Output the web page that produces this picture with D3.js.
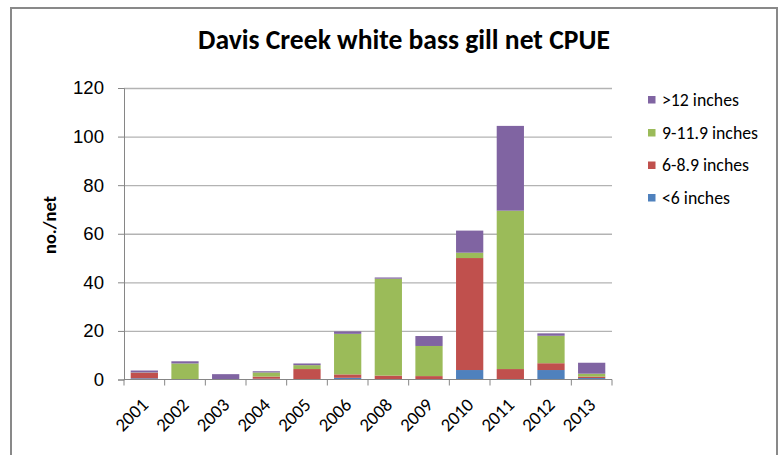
<!DOCTYPE html>
<html>
<head>
<meta charset="utf-8">
<script src="https://cdn.jsdelivr.net/npm/d3@7"></script>
<style>
  body { margin: 0; background: #fff; }
  svg { display: block; font-family: Carlito, Lato, "Open Sans", sans-serif; }
</style>
</head>
<body>
<svg id="chart" width="784" height="455"></svg>
<script>
// values (no./net)
const years = ["2001", "2002", "2003", "2004", "2005", "2006", "2008", "2009", "2010", "2011", "2012", "2013"];
const under6 = [0.5, 0.1, 0.0, 0.3, 0.2, 0.7, 0.0, 0.1, 3.9, 0.0, 3.9, 0.6];
const from6 = [2.3, 0.1, 0.1, 0.9, 4.1, 1.4, 1.6, 1.3, 46.1, 4.3, 2.8, 0.6];
const from9 = [0.1, 6.4, 0.1, 1.7, 1.6, 16.7, 39.9, 12.4, 2.2, 65.2, 11.3, 1.2];
const over12 = [0.8, 0.9, 2.0, 0.5, 0.7, 1.0, 0.5, 4.1, 9.1, 34.9, 1.0, 4.5];
const yTicks = [0, 20, 40, 60, 80, 100, 120];

const seriesNames = ["<6 inches", "6-8.9 inches", "9-11.9 inches", ">12 inches"];
const seriesColors = ["#4f81bd", "#c0504d", "#9bbb59", "#8064a2"];

const rows = years.map((yr, i) => ({
    year: yr,
    "<6 inches": under6[i],
    "6-8.9 inches": from6[i],
    "9-11.9 inches": from9[i],
    ">12 inches": over12[i]
}));

const svg = d3.select("#chart");
const plot = { left: 124, right: 612, top: 88, bottom: 379.5 };

// fit a text to a target width by changing its font size
function fitWidth(sel, target) {
    const w = sel.node().getComputedTextLength();
    const fs = parseFloat(sel.attr("font-size"));
    sel.attr("font-size", fs * target / w);
    return fs * target / w;
}

// outer chart frame
svg.append("rect")
    .attr("x", 11).attr("y", 8)
    .attr("width", 766).attr("height", 470)
    .attr("fill", "none")
    .attr("stroke", "#898989")
    .attr("stroke-width", 2);

const x = d3.scaleBand()
    .domain(years)
    .range([plot.left, plot.right])
    .paddingInner(0.33)
    .paddingOuter(0.165);

const y = d3.scaleLinear()
    .domain([0, 120])
    .range([plot.bottom, plot.top]);

// grid lines
svg.append("g")
    .attr("transform", "translate(" + plot.left + ",0)")
    .call(d3.axisLeft(y).tickValues(yTicks.slice(1)).tickSize(-(plot.right - plot.left)).tickFormat(""))
    .call(g => g.select(".domain").remove())
    .call(g => g.selectAll("line").attr("stroke", "#b3b3b3").attr("stroke-width", 1.3));

// stacked bars
const stack = d3.stack().keys(seriesNames)(rows);

svg.append("g")
    .selectAll("g")
    .data(stack)
    .join("g")
    .attr("fill", (d, i) => seriesColors[i])
    .selectAll("rect")
    .data(d => d)
    .join("rect")
    .attr("x", d => x(d.data.year))
    .attr("width", x.bandwidth())
    .attr("y", d => y(d[1]))
    .attr("height", d => y(d[0]) - y(d[1]));

// y axis
const yAxis = svg.append("g")
    .attr("transform", "translate(" + plot.left + ",0)")
    .call(d3.axisLeft(y).tickValues(yTicks).tickSize(6).tickPadding(14));
yAxis.select(".domain").attr("stroke", "#868686");
yAxis.selectAll("line").attr("stroke", "#868686");
const yText = yAxis.selectAll("text")
    .attr("font-family", null)
    .attr("font-size", 18)
    .attr("fill", "#000");
// "120" is about 31px wide in the picture
const tickFs = fitWidth(yText.filter(d => d === 120), 31);
yText.attr("font-size", tickFs);

// x axis line with tick marks on category boundaries
svg.append("line")
    .attr("x1", plot.left).attr("x2", plot.right)
    .attr("y1", plot.bottom).attr("y2", plot.bottom)
    .attr("stroke", "#868686");

const edges = years.map(yr => x(yr) - x.step() * x.paddingInner() / 2);
edges.push(plot.right);
svg.append("g")
    .selectAll("line")
    .data(edges)
    .join("line")
    .attr("x1", d => d).attr("x2", d => d)
    .attr("y1", plot.bottom).attr("y2", plot.bottom + 6)
    .attr("stroke", "#868686");

svg.append("g")
    .selectAll("text")
    .data(years)
    .join("text")
    .attr("transform", d => "translate(" + (x(d) + x.bandwidth() / 2 + 5) + ",406) rotate(-45)")
    .attr("text-anchor", "end")
    .attr("font-size", tickFs)
    .text(d => d);

// title
const title = svg.append("text")
    .attr("x", 404).attr("y", 49)
    .attr("text-anchor", "middle")
    .attr("font-size", 21)
    .attr("font-weight", "bold")
    .text("Davis Creek white bass gill net CPUE");
fitWidth(title, 412);

// y label
const yLabel = svg.append("text")
    .attr("transform", "translate(56,225) rotate(-90)")
    .attr("text-anchor", "middle")
    .attr("font-size", 18)
    .attr("font-weight", "bold")
    .text("no./net");
fitWidth(yLabel, 58);

// legend, top entry is the last series
const legendY = [99.5, 132.5, 165, 197.5];
const legendOrder = seriesNames.slice().reverse();
const legend = svg.append("g")
    .selectAll("g")
    .data(legendOrder)
    .join("g")
    .attr("transform", (d, i) => "translate(648," + legendY[i] + ")");

legend.append("rect")
    .attr("x", 0).attr("y", -3.5)
    .attr("width", 7.5).attr("height", 7.5)
    .attr("fill", d => seriesColors[seriesNames.indexOf(d)]);

const legendText = legend.append("text")
    .attr("x", 14)
    .attr("dy", "0.35em")
    .attr("font-size", 15)
    .attr("fill", "#000")
    .text(d => d);

// size all entries like the first one (">12 inches" is about 77px wide)
const lfs = fitWidth(d3.select(legendText.nodes()[0]), 77);
legendText.attr("font-size", lfs);
</script>
</body>
</html>
